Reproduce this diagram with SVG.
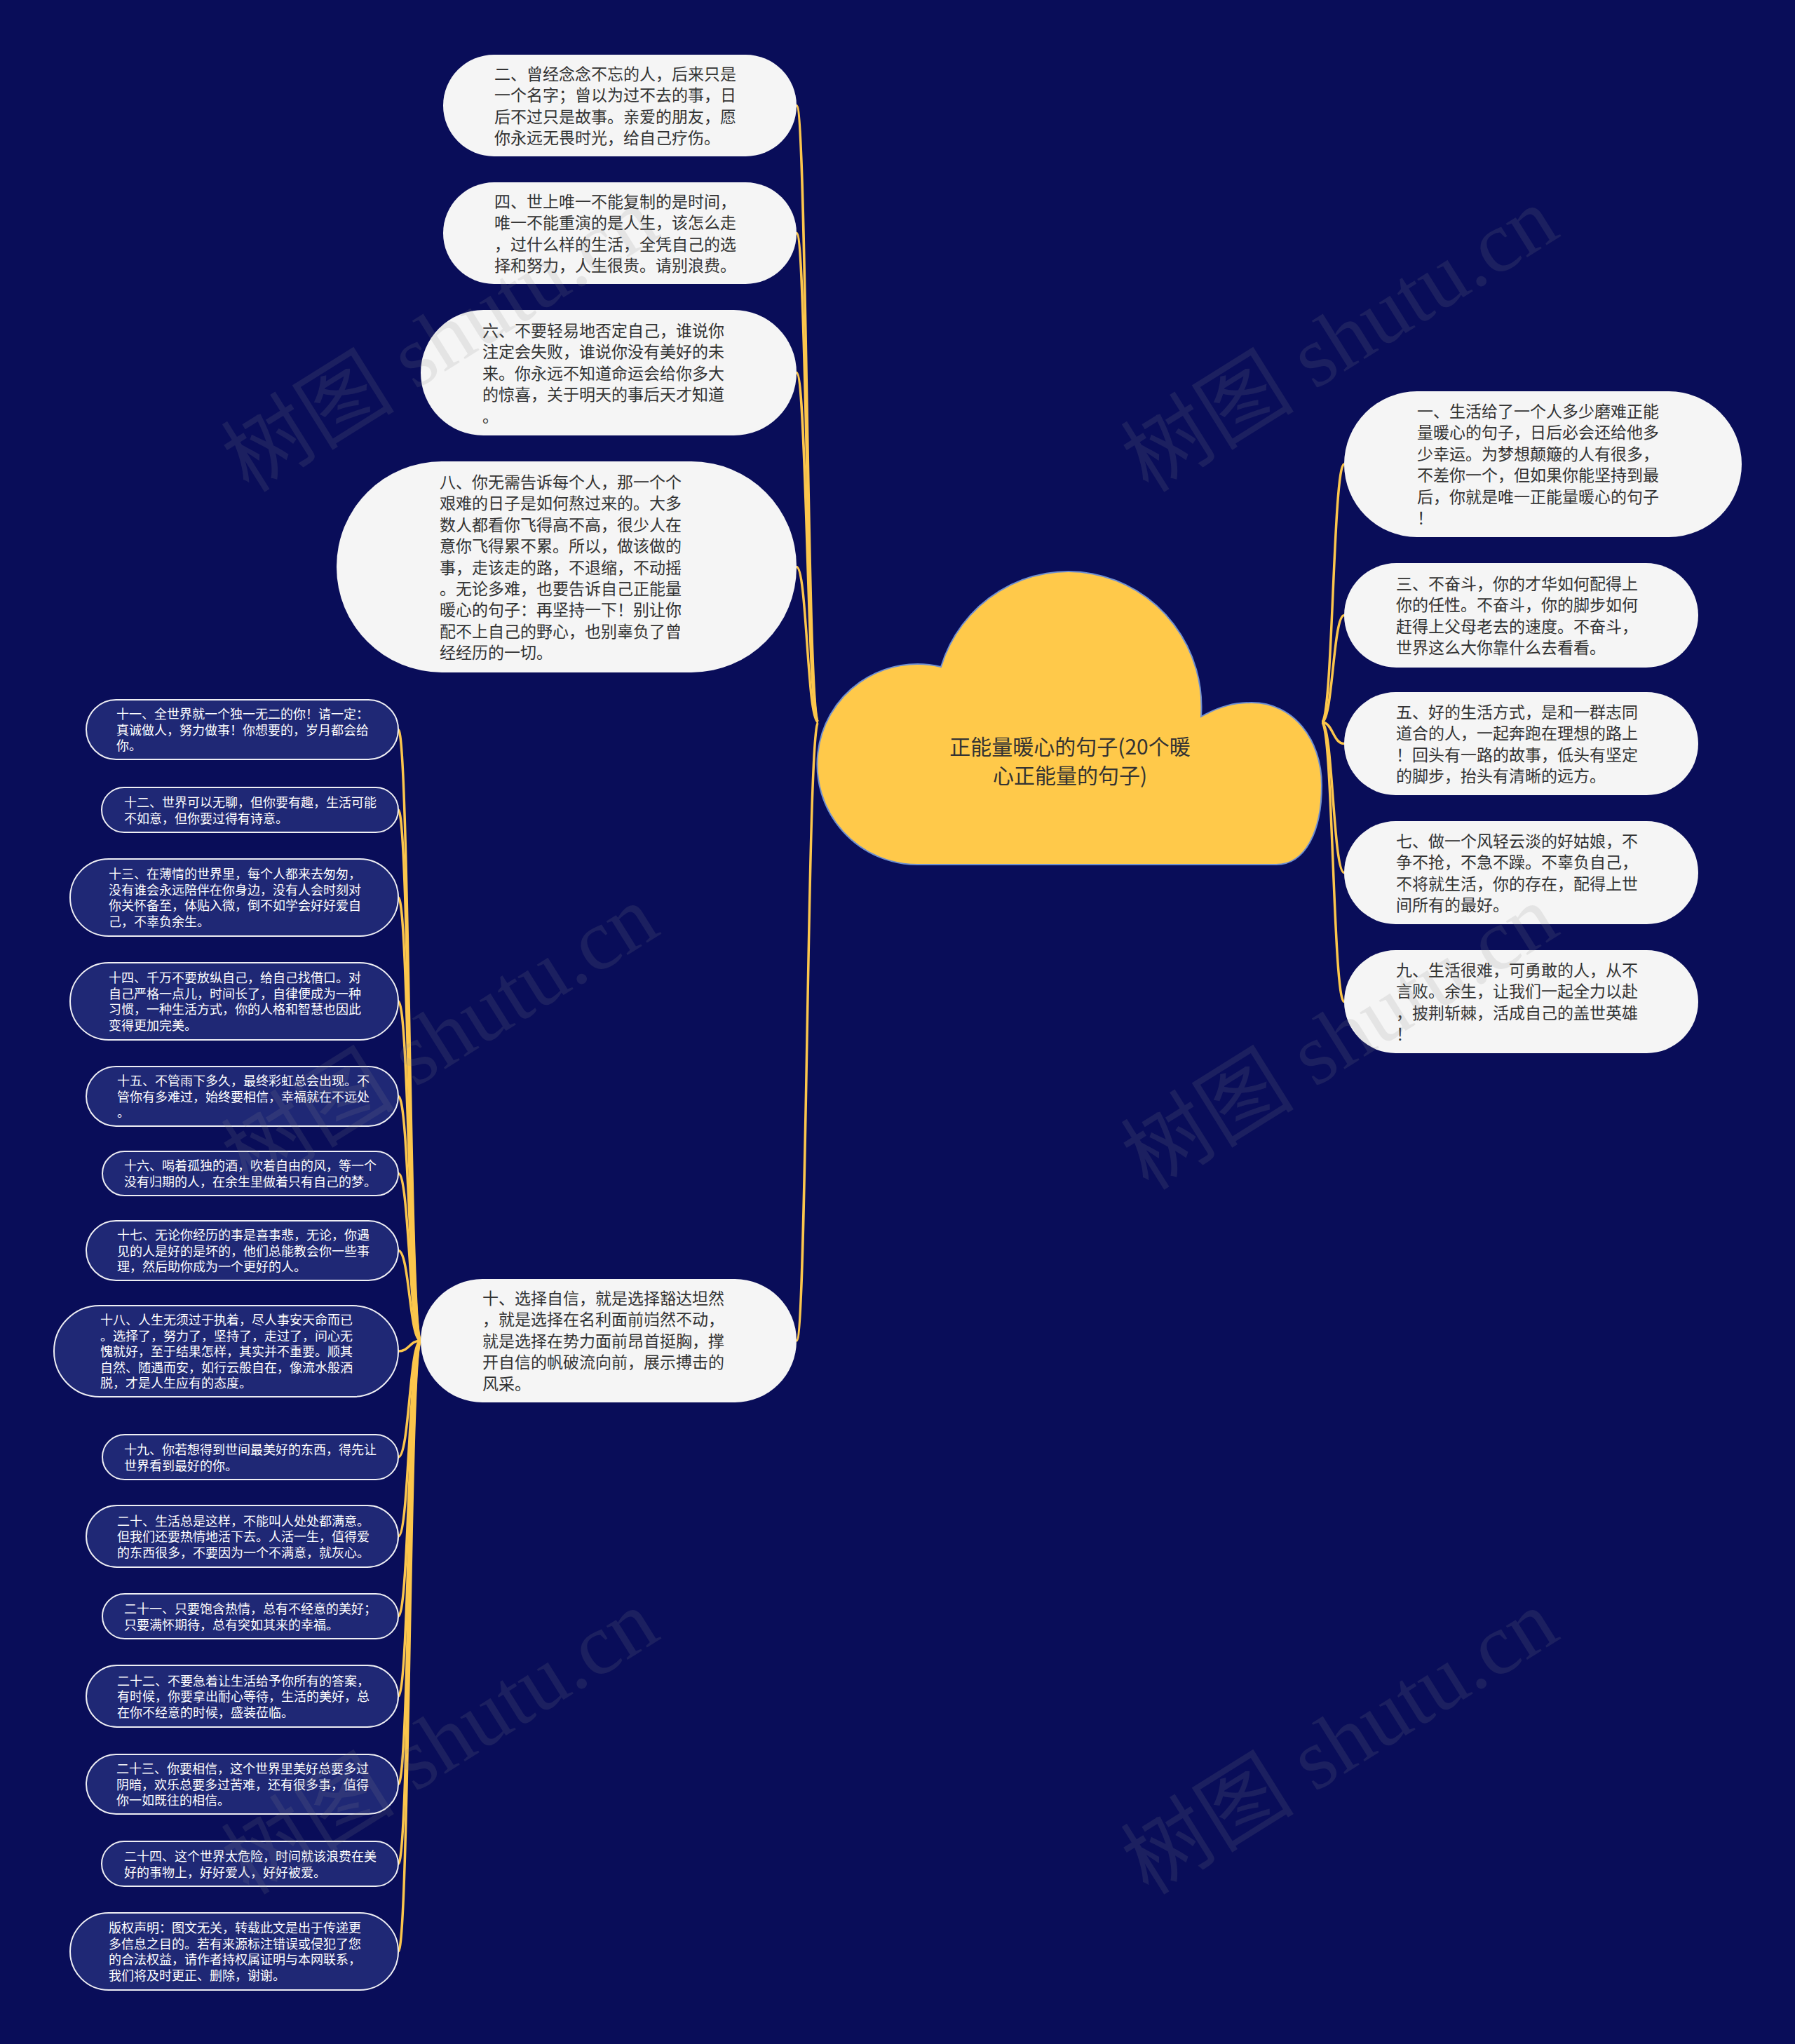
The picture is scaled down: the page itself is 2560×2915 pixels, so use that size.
<svg xmlns="http://www.w3.org/2000/svg" width="2560" height="2915" viewBox="0 0 2560 2915">
<style>
.bg{fill:#090d59}
.wn rect{fill:#f5f5f5}
.wt{font-family:"Noto Sans CJK SC","Noto Sans",sans-serif;font-size:23px;fill:#333333}
.sn rect{fill:#1f2875;stroke:#eeeef4;stroke-width:2}
.st{font-family:"Noto Sans CJK SC","Noto Sans",sans-serif;font-size:18px;fill:#ffffff}
.conn path{fill:none;stroke:#fcc64c;stroke-width:3.5}
.cloud{fill:#ffc94a;stroke:#6f8fd0;stroke-width:2}
.ct{font-family:"Noto Sans CJK SC","Noto Sans",sans-serif;font-size:30px;fill:#333333;text-anchor:middle}
.wm{font-family:"Liberation Serif","Noto Sans CJK SC",serif;font-size:124px;fill:#8a8a8a;opacity:0.15;text-anchor:middle}
</style>
<rect class="bg" x="0" y="0" width="2560" height="2915"/>

<g id="connectors" class="conn">
<path d="M1167 1030 C1151 1030 1151 150.5 1136 150.5"/>
<path d="M1167 1030 C1151 1030 1151 332.5 1136 332.5"/>
<path d="M1167 1030 C1151 1030 1151 531.5 1136 531.5"/>
<path d="M1167 1030 C1151 1030 1151 808.5 1136 808.5"/>
<path d="M1167 1030 C1151 1030 1151 1912 1136 1912"/>
<path d="M1885 1030 C1901 1030 1901 662 1917 662"/>
<path d="M1885 1030 C1901 1030 1901 877.5 1917 877.5"/>
<path d="M1885 1030 C1901 1030 1901 1060.5 1917 1060.5"/>
<path d="M1885 1030 C1901 1030 1901 1244.5 1917 1244.5"/>
<path d="M1885 1030 C1901 1030 1901 1428.5 1917 1428.5"/>
<path d="M600 1912 C584 1912 584 1040.5 568 1040.5"/>
<path d="M600 1912 C584 1912 584 1155 568 1155"/>
<path d="M600 1912 C584 1912 584 1280 568 1280"/>
<path d="M600 1912 C584 1912 584 1428 568 1428"/>
<path d="M600 1912 C584 1912 584 1563.5 568 1563.5"/>
<path d="M600 1912 C584 1912 584 1673.5 568 1673.5"/>
<path d="M600 1912 C584 1912 584 1783.5 568 1783.5"/>
<path d="M600 1912 C584 1912 584 1927 568 1927"/>
<path d="M600 1912 C584 1912 584 2078 568 2078"/>
<path d="M600 1912 C584 1912 584 2191 568 2191"/>
<path d="M600 1912 C584 1912 584 2305 568 2305"/>
<path d="M600 1912 C584 1912 584 2419 568 2419"/>
<path d="M600 1912 C584 1912 584 2544.5 568 2544.5"/>
<path d="M600 1912 C584 1912 584 2658 568 2658"/>
<path d="M600 1912 C584 1912 584 2783 568 2783"/>
</g>

<g id="root">
<path class="cloud" d="M1310 1233 A143 143 0 1 1 1342 951 A190 193 0 0 1 1713 1022 C1740 1007 1760 1002 1785 1002 C1845 1002 1885 1055 1885 1120 C1885 1185 1862 1233 1820 1233 Z"/>
<text class="ct" x="1526" y="1076">正能量暖心的句子(20个暖</text>
<text class="ct" x="1526" y="1117">心正能量的句子)</text>
</g>

<g id="n1" class="wn"><rect x="1917" y="558" width="567" height="208" rx="104"/>
<text class="wt"><tspan x="2021" y="595">一、生活给了一个人多少磨难正能</tspan><tspan x="2021" y="625.4">量暖心的句子，日后必会还给他多</tspan><tspan x="2021" y="655.8">少幸运。为梦想颠簸的人有很多，</tspan><tspan x="2021" y="686.2">不差你一个，但如果你能坚持到最</tspan><tspan x="2021" y="716.6">后，你就是唯一正能量暖心的句子</tspan><tspan x="2021" y="747">！</tspan></text></g>

<g id="n3" class="wn"><rect x="1917" y="803" width="505" height="149" rx="74.5"/>
<text class="wt"><tspan x="1991" y="841">三、不奋斗，你的才华如何配得上</tspan><tspan x="1991" y="871.4">你的任性。不奋斗，你的脚步如何</tspan><tspan x="1991" y="901.8">赶得上父母老去的速度。不奋斗，</tspan><tspan x="1991" y="932.2">世界这么大你靠什么去看看。</tspan></text></g>

<g id="n5" class="wn"><rect x="1917" y="987" width="505" height="147" rx="73.5"/>
<text class="wt"><tspan x="1991" y="1024">五、好的生活方式，是和一群志同</tspan><tspan x="1991" y="1054.4">道合的人，一起奔跑在理想的路上</tspan><tspan x="1991" y="1084.8">！回头有一路的故事，低头有坚定</tspan><tspan x="1991" y="1115.2">的脚步，抬头有清晰的远方。</tspan></text></g>

<g id="n7" class="wn"><rect x="1917" y="1171" width="505" height="147" rx="73.5"/>
<text class="wt"><tspan x="1991" y="1208">七、做一个风轻云淡的好姑娘，不</tspan><tspan x="1991" y="1238.4">争不抢，不急不躁。不辜负自己，</tspan><tspan x="1991" y="1268.8">不将就生活，你的存在，配得上世</tspan><tspan x="1991" y="1299.2">间所有的最好。</tspan></text></g>

<g id="n9" class="wn"><rect x="1917" y="1355" width="505" height="147" rx="73.5"/>
<text class="wt"><tspan x="1991" y="1392">九、生活很难，可勇敢的人，从不</tspan><tspan x="1991" y="1422.4">言败。余生，让我们一起全力以赴</tspan><tspan x="1991" y="1452.8">，披荆斩棘，活成自己的盖世英雄</tspan><tspan x="1991" y="1483.2">！</tspan></text></g>

<g id="n2" class="wn"><rect x="632" y="78" width="504" height="145" rx="72.5"/>
<text class="wt"><tspan x="705" y="114">二、曾经念念不忘的人，后来只是</tspan><tspan x="705" y="144.4">一个名字；曾以为过不去的事，日</tspan><tspan x="705" y="174.8">后不过只是故事。亲爱的朋友，愿</tspan><tspan x="705" y="205.2">你永远无畏时光，给自己疗伤。</tspan></text></g>

<g id="n4" class="wn"><rect x="632" y="260" width="504" height="145" rx="72.5"/>
<text class="wt"><tspan x="705" y="296">四、世上唯一不能复制的是时间，</tspan><tspan x="705" y="326.4">唯一不能重演的是人生，该怎么走</tspan><tspan x="705" y="356.8">，过什么样的生活，全凭自己的选</tspan><tspan x="705" y="387.2">择和努力，人生很贵。请别浪费。</tspan></text></g>

<g id="n6" class="wn"><rect x="600" y="442" width="536" height="179" rx="89.5"/>
<text class="wt"><tspan x="688" y="480">六、不要轻易地否定自己，谁说你</tspan><tspan x="688" y="510.4">注定会失败，谁说你没有美好的未</tspan><tspan x="688" y="540.8">来。你永远不知道命运会给你多大</tspan><tspan x="688" y="571.2">的惊喜，关于明天的事后天才知道</tspan><tspan x="688" y="601.6">。</tspan></text></g>

<g id="n8" class="wn"><rect x="480" y="658" width="656" height="301" rx="150"/>
<text class="wt"><tspan x="627" y="696">八、你无需告诉每个人，那一个个</tspan><tspan x="627" y="726.4">艰难的日子是如何熬过来的。大多</tspan><tspan x="627" y="756.8">数人都看你飞得高不高，很少人在</tspan><tspan x="627" y="787.2">意你飞得累不累。所以，做该做的</tspan><tspan x="627" y="817.6">事，走该走的路，不退缩，不动摇</tspan><tspan x="627" y="848">。无论多难，也要告诉自己正能量</tspan><tspan x="627" y="878.4">暖心的句子：再坚持一下！别让你</tspan><tspan x="627" y="908.8">配不上自己的野心，也别辜负了曾</tspan><tspan x="627" y="939.2">经经历的一切。</tspan></text></g>

<g id="n10" class="wn"><rect x="600" y="1824" width="536" height="176" rx="88"/>
<text class="wt"><tspan x="688" y="1860">十、选择自信，就是选择豁达坦然</tspan><tspan x="688" y="1890.4">，就是选择在名利面前岿然不动，</tspan><tspan x="688" y="1920.8">就是选择在势力面前昂首挺胸，撑</tspan><tspan x="688" y="1951.2">开自信的帆破流向前，展示搏击的</tspan><tspan x="688" y="1981.6">风采。</tspan></text></g>

<g id="s11" class="sn"><rect x="123" y="998" width="445" height="85" rx="42.5"/>
<text class="st"><tspan x="166" y="1025">十一、全世界就一个独一无二的你！请一定：</tspan><tspan x="166" y="1047.5">真诚做人，努力做事！你想要的，岁月都会给</tspan><tspan x="166" y="1070">你。</tspan></text></g>

<g id="s12" class="sn"><rect x="145" y="1123" width="423" height="64" rx="32"/>
<text class="st"><tspan x="177" y="1151">十二、世界可以无聊，但你要有趣，生活可能</tspan><tspan x="177" y="1173.5">不如意，但你要过得有诗意。</tspan></text></g>

<g id="s13" class="sn"><rect x="100" y="1225" width="468" height="110" rx="55"/>
<text class="st"><tspan x="155" y="1253">十三、在薄情的世界里，每个人都来去匆匆，</tspan><tspan x="155" y="1275.5">没有谁会永远陪伴在你身边，没有人会时刻对</tspan><tspan x="155" y="1298">你关怀备至，体贴入微，倒不如学会好好爱自</tspan><tspan x="155" y="1320.5">己，不辜负余生。</tspan></text></g>

<g id="s14" class="sn"><rect x="100" y="1373" width="468" height="110" rx="55"/>
<text class="st"><tspan x="155" y="1401">十四、千万不要放纵自己，给自己找借口。对</tspan><tspan x="155" y="1423.5">自己严格一点儿，时间长了，自律便成为一种</tspan><tspan x="155" y="1446">习惯，一种生活方式，你的人格和智慧也因此</tspan><tspan x="155" y="1468.5">变得更加完美。</tspan></text></g>

<g id="s15" class="sn"><rect x="123" y="1521" width="445" height="85" rx="42.5"/>
<text class="st"><tspan x="167" y="1548">十五、不管雨下多久，最终彩虹总会出现。不</tspan><tspan x="167" y="1570.5">管你有多难过，始终要相信，幸福就在不远处</tspan><tspan x="167" y="1593">。</tspan></text></g>

<g id="s16" class="sn"><rect x="146" y="1642" width="422" height="63" rx="31.5"/>
<text class="st"><tspan x="177" y="1669">十六、喝着孤独的酒，吹着自由的风，等一个</tspan><tspan x="177" y="1691.5">没有归期的人，在余生里做着只有自己的梦。</tspan></text></g>

<g id="s17" class="sn"><rect x="123" y="1741" width="445" height="85" rx="42.5"/>
<text class="st"><tspan x="167" y="1768">十七、无论你经历的事是喜事悲，无论，你遇</tspan><tspan x="167" y="1790.5">见的人是好的是坏的，他们总能教会你一些事</tspan><tspan x="167" y="1813">理，然后助你成为一个更好的人。</tspan></text></g>

<g id="s18" class="sn"><rect x="77" y="1862" width="491" height="130" rx="65"/>
<text class="st"><tspan x="143" y="1889">十八、人生无须过于执着，尽人事安天命而已</tspan><tspan x="143" y="1911.5">。选择了，努力了，坚持了，走过了，问心无</tspan><tspan x="143" y="1934">愧就好，至于结果怎样，其实并不重要。顺其</tspan><tspan x="143" y="1956.5">自然、随遇而安，如行云般自在，像流水般洒</tspan><tspan x="143" y="1979">脱，才是人生应有的态度。</tspan></text></g>

<g id="s19" class="sn"><rect x="146" y="2046" width="422" height="64" rx="32"/>
<text class="st"><tspan x="177" y="2074">十九、你若想得到世间最美好的东西，得先让</tspan><tspan x="177" y="2096.5">世界看到最好的你。</tspan></text></g>

<g id="s20" class="sn"><rect x="123" y="2147" width="445" height="88" rx="44"/>
<text class="st"><tspan x="167" y="2175.5">二十、生活总是这样，不能叫人处处都满意。</tspan><tspan x="167" y="2198">但我们还要热情地活下去。人活一生，值得爱</tspan><tspan x="167" y="2220.5">的东西很多，不要因为一个不满意，就灰心。</tspan></text></g>

<g id="s21" class="sn"><rect x="146" y="2273" width="422" height="64" rx="32"/>
<text class="st"><tspan x="177" y="2301">二十一、只要饱含热情，总有不经意的美好；</tspan><tspan x="177" y="2323.5">只要满怀期待，总有突如其来的幸福。</tspan></text></g>

<g id="s22" class="sn"><rect x="123" y="2375" width="445" height="88" rx="44"/>
<text class="st"><tspan x="167" y="2403.5">二十二、不要急着让生活给予你所有的答案，</tspan><tspan x="167" y="2426">有时候，你要拿出耐心等待，生活的美好，总</tspan><tspan x="167" y="2448.5">在你不经意的时候，盛装莅临。</tspan></text></g>

<g id="s23" class="sn"><rect x="123" y="2502" width="445" height="85" rx="42.5"/>
<text class="st"><tspan x="166" y="2529">二十三、你要相信，这个世界里美好总要多过</tspan><tspan x="166" y="2551.5">阴暗，欢乐总要多过苦难，还有很多事，值得</tspan><tspan x="166" y="2574">你一如既往的相信。</tspan></text></g>

<g id="s24" class="sn"><rect x="145" y="2626" width="423" height="64" rx="32"/>
<text class="st"><tspan x="177" y="2654">二十四、这个世界太危险，时间就该浪费在美</tspan><tspan x="177" y="2676.5">好的事物上，好好爱人，好好被爱。</tspan></text></g>

<g id="s25" class="sn"><rect x="100" y="2728" width="468" height="110" rx="55"/>
<text class="st"><tspan x="155" y="2756">版权声明：图文无关，转载此文是出于传递更</tspan><tspan x="155" y="2778.5">多信息之目的。若有来源标注错误或侵犯了您</tspan><tspan x="155" y="2801">的合法权益，请作者持权属证明与本网联系，</tspan><tspan x="155" y="2823.5">我们将及时更正、删除，谢谢。</tspan></text></g>

<g id="watermarks">
<text class="wm" transform="translate(650 520) rotate(-32)">树图 shutu.cn</text>
<text class="wm" transform="translate(1933 520) rotate(-32)">树图 shutu.cn</text>
<text class="wm" transform="translate(650 1515) rotate(-32)">树图 shutu.cn</text>
<text class="wm" transform="translate(1933 1515) rotate(-32)">树图 shutu.cn</text>
<text class="wm" transform="translate(650 2520) rotate(-32)">树图 shutu.cn</text>
<text class="wm" transform="translate(1933 2520) rotate(-32)">树图 shutu.cn</text>
</g>
</svg>
